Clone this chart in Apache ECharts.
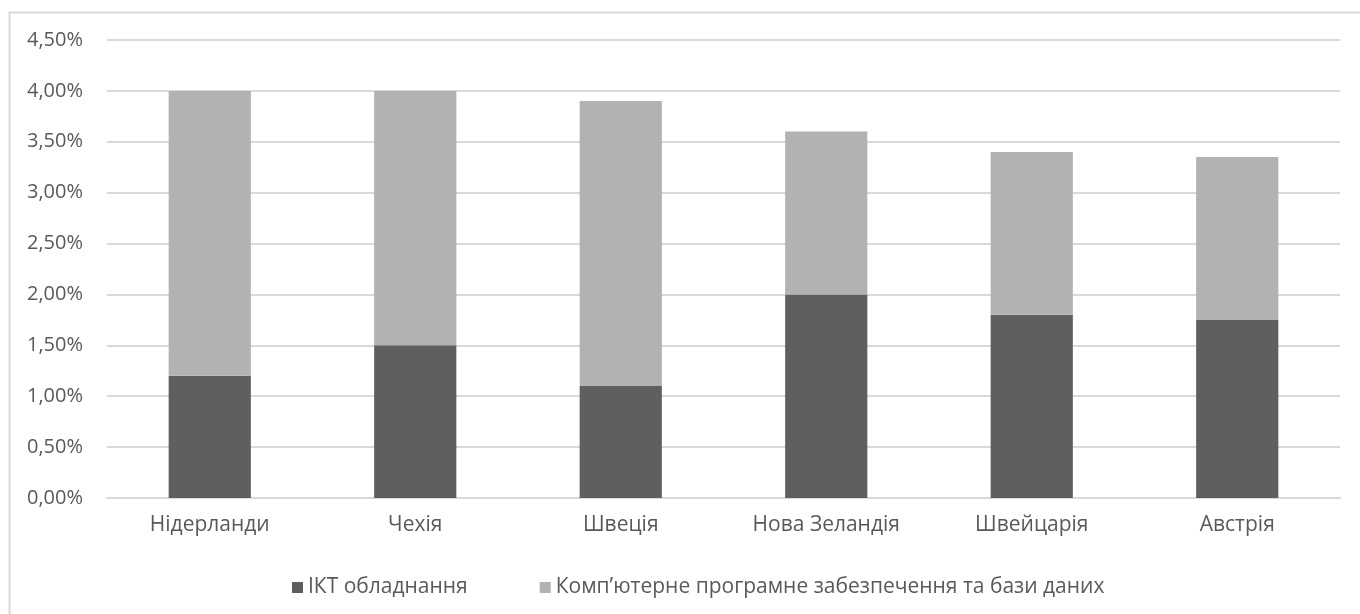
<!DOCTYPE html>
<html>
<head>
<meta charset="utf-8">
<title>ІКТ інвестиції</title>
<script src="https://cdn.jsdelivr.net/npm/echarts@6/dist/echarts.min.js"></script>
<style>
  html, body { margin: 0; padding: 0; background: #ffffff; }
  #chart { width: 1360px; height: 614px; }
</style>
</head>
<body>
<div id="chart"></div>
<script>
// Countries along the category axis
const countries = ['Нідерланди', 'Чехія', 'Швеція', 'Нова Зеландія', 'Швейцарія', 'Австрія'];

// Share of investment, % (stacked)
const ictEquipment = [1.2, 1.5, 1.1, 2.0, 1.8, 1.75];
const softwareDatabases = [2.8, 2.5, 2.8, 1.6, 1.6, 1.6];

const seriesNames = ['ІКТ обладнання', 'Комп’ютерне програмне забезпечення та бази даних'];

// Value axis ticks
const yMin = 0;
const yMax = 4.5;
const yStep = 0.5;

const textColor = '#595959';
const gridColor = '#d9d9d9';
const fontFamily = '"Open Sans", "Noto Sans", sans-serif';

const chart = echarts.init(document.getElementById('chart'), null, { renderer: 'canvas' });

const fmtPct = v => v.toFixed(2).replace('.', ',') + '%';

chart.setOption({
  backgroundColor: '#ffffff',
  animation: false,
  textStyle: { fontFamily: fontFamily, color: textColor },
  graphic: [{
    type: 'rect',
    left: 7,
    top: 10,
    shape: { width: 1400, height: 700 },
    style: { fill: 'none', stroke: gridColor, lineWidth: 2 },
    silent: true
  }],
  grid: { left: 107, right: 20, top: 40, bottom: 116, containLabel: false },
  legend: {
    left: 287,
    top: 572,
    itemWidth: 11,
    itemHeight: 11,
    itemGap: 72,
    icon: 'rect',
    textStyle: { fontFamily: fontFamily, fontSize: 21, color: textColor },
    data: seriesNames
  },
  xAxis: {
    type: 'category',
    data: countries,
    axisLine: { show: true, lineStyle: { color: gridColor, width: 2 } },
    axisTick: { show: false },
    axisLabel: { color: textColor, fontSize: 21, fontFamily: fontFamily, margin: 17 }
  },
  yAxis: {
    type: 'value',
    min: yMin,
    max: yMax,
    interval: yStep,
    axisLine: { show: false },
    axisTick: { show: false },
    splitLine: { lineStyle: { color: gridColor, width: 2 } },
    axisLabel: {
      color: textColor,
      fontSize: 20,
      fontFamily: fontFamily,
      margin: 24,
      formatter: fmtPct
    }
  },
  series: [
    {
      name: seriesNames[0],
      type: 'bar',
      stack: 'total',
      barCategoryGap: '60%',
      itemStyle: { color: '#5f5f5f' },
      data: ictEquipment
    },
    {
      name: seriesNames[1],
      type: 'bar',
      stack: 'total',
      barCategoryGap: '60%',
      itemStyle: { color: '#b2b2b2' },
      data: softwareDatabases
    }
  ]
});
</script>
</body>
</html>
